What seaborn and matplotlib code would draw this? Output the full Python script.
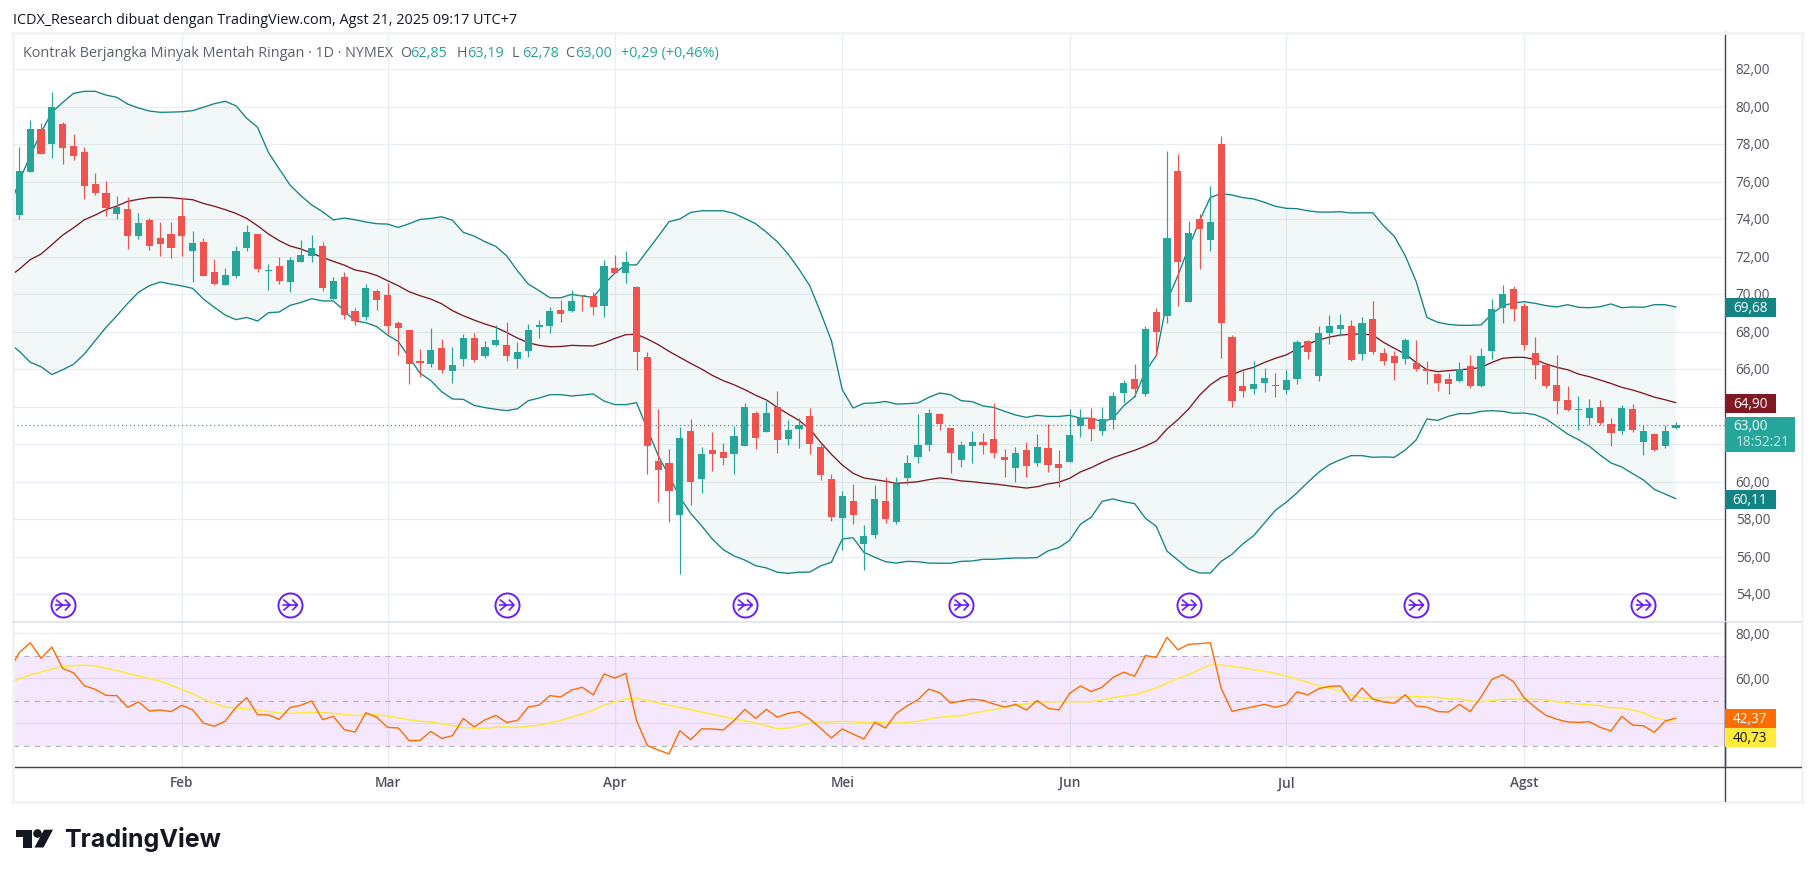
import numpy as np
import pandas as pd
import seaborn as sns
import matplotlib
matplotlib.use("Agg")
import matplotlib.pyplot as plt
from matplotlib.path import Path
from matplotlib.patches import Rectangle, Polygon, Ellipse
from matplotlib.lines import Line2D
from matplotlib.transforms import ScaledTranslation

sns.set_theme(style="white")
plt.rcParams['font.family'] = ['Open Sans', 'DejaVu Sans']

W, H = 1814, 878

opens = [74.21,76.52,78.8,78.0,79.07,77.89,77.57,75.87,75.38,74.27,74.53,73.09,73.95,72.98,73.2,74.16,72.29,72.77,71.17,70.48,
70.96,72.45,73.2,71.22,71.49,70.64,71.71,72.03,72.56,69.73,70.9,69.09,68.77,70.16,69.95,68.45,68.08,66.39,66.27,67.12,
65.89,66.53,67.65,66.69,67.28,67.28,66.53,66.96,68.24,68.29,69.15,69.09,69.95,69.89,69.36,71.38,71.12,70.37,66.64,61.09,
60.99,58.2,62.69,60.13,61.68,61.57,61.47,61.89,63.65,62.64,63.97,62.27,62.8,63.49,61.84,60.13,58.05,58.96,56.67,57.15,
58.96,57.84,60.19,61.31,61.95,63.6,62.85,61.15,61.89,62.11,62.27,61.31,60.72,61.68,60.99,61.79,60.93,61.04,62.96,63.39,
62.69,63.28,64.72,65.47,64.67,69.04,68.83,76.56,69.57,74.0,72.88,78.0,67.7,65.09,64.93,65.25,65.15,64.88,65.47,67.49,
65.63,67.92,68.13,68.29,66.8,68.67,66.85,66.69,66.53,66.32,66.0,65.73,65.47,65.36,66.16,65.09,66.96,69.25,70.27,69.36,
66.85,66.21,65.15,64.35,63.81,63.39,63.97,63.07,62.69,63.87,62.11,62.53,61.89,62.85]
highs = [77.84,79.26,79.12,80.77,79.2,78.53,77.84,76.45,76.03,75.22,75.17,74.32,74.05,73.84,73.84,75.17,73.36,72.98,71.87,71.38,
72.56,73.68,73.2,71.6,72.0,72.0,72.88,73.15,72.77,70.9,71.2,69.25,70.53,70.26,70.6,68.56,68.08,67.07,68.19,67.6,
67.17,67.87,67.92,67.49,68.35,68.5,67.44,68.4,68.61,69.3,69.68,70.21,69.95,70.1,71.8,72.08,72.29,70.42,66.9,63.87,
61.73,62.91,63.33,61.84,62.64,62.05,62.96,64.19,63.76,64.3,64.83,63.28,63.39,63.92,62.05,60.4,59.5,59.87,57.68,59.81,
60.24,60.24,61.41,63.6,63.87,63.65,62.85,62.16,62.69,62.59,64.19,61.73,61.84,62.11,62.53,63.07,61.68,63.87,63.87,63.92,
63.97,64.77,65.41,66.27,68.32,69.25,77.63,77.47,73.89,74.27,75.76,78.43,67.81,65.89,66.43,66.05,65.78,65.95,67.55,67.55,
68.29,68.88,68.93,68.61,68.77,69.62,67.12,66.96,67.65,67.55,66.43,65.78,65.78,66.37,66.75,67.12,69.73,70.48,70.42,69.52,
67.71,66.32,66.75,65.09,64.56,64.4,64.35,63.39,64.08,64.13,63.01,62.59,63.01,63.19]
lows = [74.0,76.5,77.45,77.25,76.93,77.13,75.07,75.28,74.16,74.0,72.4,72.93,72.35,72.03,71.92,72.03,70.64,70.96,70.48,70.48,
70.85,72.29,71.17,70.2,70.53,70.1,71.7,71.7,70.16,69.73,68.67,68.34,68.6,69.15,67.86,66.75,65.2,65.57,66.1,65.78,
65.25,66.16,66.37,66.58,67.23,66.43,66.05,66.64,67.65,67.92,68.5,69.04,69.09,68.88,68.77,71.1,70.58,65.95,60.4,58.91,
57.84,55.07,58.75,59.39,60.56,60.88,60.4,61.89,61.73,62.64,61.52,61.95,61.79,61.47,60.08,57.9,56.35,57.73,55.28,56.99,
57.79,57.73,59.87,60.99,61.63,62.75,60.45,60.77,60.99,61.47,61.25,60.24,59.97,60.24,60.83,60.51,59.71,61.04,62.37,62.16,
62.48,62.8,64.19,64.5,64.56,66.69,68.45,69.36,69.57,71.33,72.29,66.58,63.97,64.5,64.67,64.77,64.5,64.67,65.2,66.53,
65.36,67.33,67.76,66.43,66.48,66.8,66.21,65.41,66.27,65.89,65.2,64.83,64.67,65.31,64.99,65.04,66.53,68.45,68.56,67.01,
65.47,64.99,63.6,63.76,62.75,63.01,63.01,61.89,62.53,62.64,61.41,61.63,61.79,62.78]
closes = [76.56,78.8,77.47,80.0,77.79,77.36,75.76,75.38,74.59,74.64,73.09,73.78,72.56,72.67,72.45,73.09,72.72,70.96,70.53,71.01,
72.29,73.3,71.33,71.25,70.69,71.81,72.08,72.45,70.32,70.69,68.88,68.56,70.32,69.68,68.29,68.19,66.27,66.34,67.01,65.95,
66.21,67.65,66.48,67.17,67.55,66.69,66.9,68.08,68.35,69.09,68.93,69.63,69.89,69.31,71.49,71.12,71.7,66.9,61.89,60.61,
59.49,62.32,59.97,61.47,61.47,61.25,62.43,63.97,62.32,63.65,62.21,62.75,63.0,62.0,60.35,58.11,59.23,58.2,57.09,59.07,
58.0,59.87,60.99,61.95,63.65,63.07,61.52,61.95,62.11,61.95,61.52,61.15,61.52,60.83,61.84,60.88,60.72,62.48,63.39,62.8,
63.33,64.56,65.25,64.93,68.13,67.97,72.99,71.71,73.25,73.47,73.84,68.45,64.29,64.83,65.2,65.52,65.09,65.41,67.44,66.9,
67.92,68.29,68.35,66.48,68.45,66.9,66.43,66.32,67.55,66.0,65.89,65.25,65.2,66.0,65.09,66.69,69.2,70.0,69.2,67.28,
66.21,65.09,64.29,63.81,63.87,63.92,63.12,62.59,63.92,62.75,62.69,61.68,62.69,63.0]

upper = [74.5,76.04,77.37,78.62,79.69,80.22,80.7,80.81,80.81,80.61,80.49,80.13,79.92,79.76,79.69,79.7,79.72,79.78,79.96,80.15,
80.28,80.04,79.37,78.89,77.55,76.67,75.81,75.24,74.75,74.39,73.95,74.05,73.96,73.84,73.75,73.73,73.55,73.75,73.98,74.03,
74.12,73.93,73.29,73.09,72.79,72.54,72.04,71.24,70.53,70.18,69.8,69.8,69.98,69.89,69.82,70.53,71.12,71.55,71.55,72.31,
73.07,73.86,74.0,74.35,74.44,74.44,74.44,74.3,74.03,73.75,73.29,72.79,72.13,71.33,70.44,69.02,67.51,64.9,63.92,64.17,
64.19,64.27,64.13,64.15,64.19,64.49,64.72,64.63,64.31,64.26,64.03,63.95,63.74,63.55,63.42,63.53,63.47,63.47,63.53,63.38,
63.37,63.19,63.37,64.04,64.52,65.87,66.71,69.64,70.98,72.49,73.91,75.15,75.35,75.28,75.14,75.07,74.89,74.68,74.57,74.55,
74.44,74.37,74.37,74.39,74.32,74.33,74.33,73.64,73.07,72.04,70.68,68.75,68.49,68.38,68.33,68.33,68.35,68.93,69.38,69.52,
69.59,69.5,69.38,69.31,69.43,69.29,69.27,69.32,69.47,69.27,69.31,69.29,69.43,69.43,69.31]
basis = [70.9,71.33,71.83,72.13,72.63,73.14,73.53,73.96,74.21,74.5,74.69,74.94,75.05,75.14,75.15,75.14,75.08,75.03,74.83,74.68,
74.5,74.3,74.03,73.64,73.2,72.84,72.56,72.4,72.18,71.95,71.74,71.54,71.28,71.17,70.99,70.71,70.44,70.12,69.91,69.73,
69.48,69.11,68.84,68.61,68.4,68.22,67.95,67.65,67.4,67.26,67.19,67.2,67.26,67.24,67.23,67.4,67.63,67.83,67.85,67.6,
67.3,66.94,66.62,66.3,66.0,65.66,65.38,65.16,64.9,64.6,64.35,63.95,63.6,63.26,62.8,62.09,61.45,60.88,60.44,60.19,
60.1,60.01,59.9,59.94,59.99,60.1,60.19,60.13,60.03,59.99,59.92,59.87,59.8,59.72,59.65,59.72,59.87,59.96,60.17,60.51,
60.74,61.02,61.27,61.47,61.66,61.89,62.16,62.8,63.3,63.87,64.6,65.16,65.55,65.7,65.93,66.09,66.35,66.57,66.75,67.06,
67.33,67.55,67.7,67.81,67.85,67.87,67.81,67.42,67.1,66.8,66.35,65.96,65.86,65.91,65.96,66.0,66.09,66.35,66.57,66.62,
66.62,66.5,66.27,66.09,65.96,65.73,65.59,65.41,65.23,65.02,64.88,64.7,64.5,64.36,64.2]
lower = [67.4,66.94,66.36,66.12,65.7,65.96,66.25,66.8,67.51,68.22,68.84,69.5,70.09,70.44,70.64,70.53,70.43,70.3,69.73,69.29,
68.88,68.63,68.75,68.56,69.0,69.04,69.39,69.55,69.75,69.63,69.63,69.11,68.56,68.47,68.26,67.81,67.46,66.62,65.78,65.38,
64.79,64.4,64.38,64.06,63.94,63.85,63.78,63.88,64.31,64.45,64.63,64.63,64.56,64.61,64.67,64.29,64.1,64.1,64.2,62.8,
61.38,60.31,59.16,58.3,57.64,56.93,56.37,56.03,55.81,55.51,55.39,55.16,55.1,55.16,55.17,55.5,55.69,56.93,57.0,56.22,
55.96,55.72,55.65,55.74,55.72,55.65,55.64,55.64,55.74,55.76,55.85,55.85,55.89,55.92,55.92,55.94,56.3,56.47,56.86,57.72,
58.1,58.94,59.07,58.92,58.82,58.04,57.61,56.28,55.81,55.33,55.12,55.12,55.74,56.12,56.67,57.11,57.79,58.46,58.89,59.39,
59.96,60.49,60.9,61.16,61.38,61.38,61.29,61.31,61.29,61.68,62.21,63.33,63.26,63.48,63.62,63.62,63.74,63.78,63.74,63.64,
63.65,63.56,63.33,62.94,62.53,62.23,61.88,61.41,60.99,60.77,60.42,60.08,59.58,59.33,59.08]
rsi = [63.0,71.5,75.8,68.9,73.9,64.4,62.4,56.7,55.1,52.4,52.3,47.1,49.5,45.5,45.9,45.2,48.0,46.0,40.1,38.7,
40.9,47.1,51.4,43.8,43.7,41.8,47.0,48.0,49.9,41.6,43.1,37.2,36.1,44.7,42.7,38.2,37.9,32.3,32.4,36.4,
33.3,34.5,42.2,38.4,41.5,43.5,40.4,41.3,47.2,48.1,52.3,51.7,54.8,56.0,52.6,61.9,60.1,62.2,41.2,30.1,
28.1,26.4,36.7,32.7,37.5,37.5,37.0,41.2,46.2,42.2,46.2,42.7,44.4,45.2,41.9,37.8,33.5,37.5,35.2,33.0,
40.4,37.9,44.4,47.8,50.5,55.2,53.6,49.0,49.9,50.7,50.2,48.6,47.2,48.4,45.9,50.1,46.7,45.9,53.3,56.6,
54.1,56.0,60.4,62.7,60.9,70.1,69.3,78.2,72.7,75.1,75.4,75.8,55.5,45.3,46.4,47.4,48.4,47.1,48.3,54.0,
52.6,55.4,56.4,56.6,49.9,55.7,50.8,49.5,48.9,52.7,47.7,47.2,45.2,45.0,48.4,45.2,51.7,59.5,61.6,58.5,
51.2,47.1,43.5,41.8,40.6,40.4,40.7,38.2,36.6,43.1,39.2,38.9,36.0,41.0,42.3]
rsi_ma = [57.9,59.7,61.5,62.8,64.1,65.2,65.6,65.8,65.5,64.4,63.4,62.2,61.0,60.0,58.7,56.9,55.0,53.2,50.7,48.9,
47.2,46.8,46.4,45.9,45.2,44.6,44.4,44.7,44.9,44.7,44.4,43.8,43.5,43.7,43.8,43.2,42.4,41.6,40.9,40.6,
39.8,38.9,38.1,37.9,37.8,38.2,38.4,38.2,38.7,39.1,40.1,41.3,42.7,44.1,45.9,48.1,49.5,50.8,51.1,50.2,
49.0,48.0,47.1,46.1,45.0,44.0,43.0,41.9,41.2,40.1,38.9,37.6,37.9,38.9,40.0,40.7,40.6,40.9,40.6,40.3,
40.6,40.1,40.1,40.4,40.9,41.9,42.7,43.0,43.4,44.3,45.3,46.1,47.2,48.1,48.6,49.5,49.5,49.6,49.6,49.6,
49.6,50.4,51.4,52.1,52.7,54.2,55.7,57.9,60.0,61.6,63.8,65.9,65.9,65.2,64.6,63.8,63.1,62.1,61.0,59.7,
58.2,56.7,55.5,54.3,52.6,51.2,51.2,51.4,51.5,51.8,51.8,51.8,51.5,50.9,50.8,49.9,49.6,50.1,50.6,50.8,
50.8,50.6,50.4,49.6,49.0,48.6,48.3,47.8,46.9,46.8,45.9,44.6,42.5,41.5,40.7]

month_idx = [15, 34, 55, 76, 97, 117, 139]
month_labels = ['Feb', 'Mar', 'Apr', 'Mei', 'Jun', 'Jul', 'Agst']
roll_idx = [4, 25, 45, 67, 87, 108, 129, 150]
price_ticks = [54, 56, 58, 60, 62, 64, 66, 68, 70, 72, 74, 76, 78, 80, 82]
price_hidden = [62, 64]   # covered by the value tags in the original
rsi_ticks = [80, 60, 40]
rsi_tick_labels = ['80,00', '60,00', '']
last_price = 63.0

UP, DOWN = '#26a69a', '#ef5350'
BAND, BASIS = '#138484', '#801922'
GRID = '#e8eef3'
AX = '#434651'
TXT = '#50535e'

x0, x1 = 13.0, 1724.6
xlim = ((x0 - 19.4) / 10.827, (x1 - 19.4) / 10.827)
fig = plt.figure(figsize=(W / 100, H / 100), dpi=100, facecolor='white')
ax = fig.add_axes([x0 / W, 1 - 623 / H, (x1 - x0) / W, 590 / H])
ax2 = fig.add_axes([x0 / W, 1 - 768 / H, (x1 - x0) / W, 145 / H], sharex=ax)

idx = np.arange(len(closes))
bidx = np.arange(-1, len(closes))

# ---------- price pane ----------
ax.set_axisbelow(True)
for a in (ax, ax2):
    a.set_facecolor('white')
    a.grid(True, color=GRID, lw=0.9)
    for s in a.spines.values():
        s.set_visible(False)
    a.spines['right'].set_visible(True)
    a.spines['right'].set_color(AX)
    a.spines['right'].set_linewidth(1.0)

ax.fill(np.r_[bidx, bidx[::-1]], np.r_[upper, lower[::-1]], color='#138484', alpha=0.05, lw=0, zorder=1)

df = pd.DataFrame({'i': bidx, 'upper': upper, 'basis': basis, 'lower': lower, 'rsi': rsi, 'ma': rsi_ma})
sns.lineplot(data=df, x='i', y='upper', ax=ax, color=BAND, lw=0.95, errorbar=None, zorder=2)
sns.lineplot(data=df, x='i', y='lower', ax=ax, color=BAND, lw=0.95, errorbar=None, zorder=2)
sns.lineplot(data=df, x='i', y='basis', ax=ax, color=BASIS, lw=0.95, errorbar=None, zorder=2)

colors = [UP if c >= o else DOWN for o, c in zip(opens, closes)]
ax.vlines(idx, lows, highs, colors=colors, lw=0.85, zorder=3)
bottoms = np.minimum(opens, closes)
heights = np.maximum(np.abs(np.array(closes) - np.array(opens)), 0.06)
ax.bar(idx, heights, bottom=bottoms, width=0.66, color=colors, lw=0, zorder=4)

ax.axhline(last_price, color='#1d9a8e', lw=0.85, ls=(0, (1, 2.4)), zorder=5)

# contract-roll markers
arrow = Path([(-0.62, 0.50), (-0.02, 0.0), (-0.62, -0.50), (-0.70, 0.0), (0.68, 0.0),
              (0.20, 0.50), (0.68, 0.0), (0.20, -0.50)],
             [Path.MOVETO, Path.LINETO, Path.LINETO, Path.MOVETO, Path.LINETO,
              Path.MOVETO, Path.LINETO, Path.LINETO])
roll_y = 78 - (606 - 145) / 18.75
ax.scatter(roll_idx, [roll_y] * len(roll_idx), s=300, marker='o', facecolors='white',
           edgecolors='#6a1bff', linewidths=1.4, zorder=6)
ax.scatter(roll_idx, [roll_y] * len(roll_idx), s=120, marker=arrow, facecolors='none',
           edgecolors='#6a1bff', linewidths=1.2, zorder=7)

ax.set_xlim(*xlim)
ax.set_ylim(78 - (623 - 145) / 18.75, 78 + (145 - 33) / 18.75)
ax.set_xticks(month_idx)
ax.yaxis.tick_right()
ax.set_yticks(price_ticks)
ax.set_yticklabels(['' if t in price_hidden else f'{t},00' for t in price_ticks])
ax.tick_params(axis='y', length=0, pad=8, labelsize=9.8, labelcolor=TXT)
ax.tick_params(axis='x', length=0, labelbottom=False)
ax.set_xlabel(''); ax.set_ylabel('')

# ---------- RSI pane ----------
ax2.set_axisbelow(True)
ax2.axhspan(30, 70, color='#b23cf0', alpha=0.12, lw=0, zorder=1)
for lvl in (70, 50, 30):
    ax2.axhline(lvl, color='#b2b5be', lw=0.85, ls=(0, (4.5, 4.5)), zorder=2)
sns.lineplot(data=df, x='i', y='ma', ax=ax2, color='#ffeb3b', lw=1.1, errorbar=None, zorder=3)
sns.lineplot(data=df, x='i', y='rsi', ax=ax2, color='#ff6d00', lw=1.0, errorbar=None, zorder=4)
ax2.set_ylim(80 - (768 - 634.3) / 2.25, 80 + (634.3 - 623) / 2.25)
ax2.set_xlim(*xlim)
ax2.yaxis.tick_right()
ax2.set_yticks(rsi_ticks)
ax2.set_yticklabels(rsi_tick_labels)
ax2.set_xticks(month_idx)
ax2.set_xticklabels(month_labels, fontweight='semibold')
ax2.tick_params(axis='y', length=0, pad=8, labelsize=9.8, labelcolor=TXT)
ax2.tick_params(axis='x', length=0, pad=6, labelsize=9.8, labelcolor=TXT)
ax2.spines['bottom'].set_visible(True)
ax2.spines['bottom'].set_color(AX)
ax2.spines['bottom'].set_linewidth(1.0)
ax2.set_xlabel(''); ax2.set_ylabel('')

nudge = ScaledTranslation(0, 1.2 / 100, fig.dpi_scale_trans)
for a in (ax, ax2):
    for lab in a.get_yticklabels():
        lab.set_transform(lab.get_transform() + nudge)


# ---------- furniture in pixel coordinates ----------
def T(x, y, s, color=TXT, size=10.2, ha='left', va='center', **kw):
    return fig.text(x / W, 1 - y / H, s, color=color, fontsize=size, ha=ha, va=va, **kw)


def box(x, y, w, h, color):
    fig.add_artist(Rectangle((x / W, 1 - (y + h) / H), w / W, h / H, transform=fig.transFigure,
                             facecolor=color, edgecolor='none', zorder=20))


def hline(x_a, x_b, y, color, lw=1.0):
    fig.add_artist(Line2D([x_a / W, x_b / W], [1 - y / H, 1 - y / H], color=color, lw=lw, zorder=15))


def vline(x, y_a, y_b, color, lw=1.0):
    fig.add_artist(Line2D([x / W, x / W], [1 - y_a / H, 1 - y_b / H], color=color, lw=lw, zorder=15))


FRAME = '#f1f3f6'
hline(12, 1803, 33.5, FRAME, 2)
hline(12, 1803, 803, FRAME, 2)
vline(13, 33, 804, FRAME, 2)
vline(1802, 33, 804, FRAME, 2)
hline(13, x1, 623, '#e0e3eb', 1.2)
hline(x1, 1801, 623, '#e0e3eb', 1.2)
hline(x1, 1801, 768, AX, 1.0)
vline(x1, 623, 802, AX, 1.0)

T(13, 20, 'ICDX_Research dibuat dengan TradingView.com, Agst 21, 2025 09:17 UTC+7', color='#131722', size=10.4)
T(23, 53.5, 'Kontrak Berjangka Minyak Mentah Ringan · 1D · NYMEX', color='#5d606b', size=10.4)
for xp, lab, val in [(400, 'O', '62,85'), (457, 'H', '63,19'), (512, 'L', '62,78'), (565, 'C', '63,00')]:
    T(xp, 53.5, lab, color='#5d606b', size=10.4)
    T(xp + 10.5, 53.5, val, color=UP, size=10.4)
T(621, 53.5, '+0,29 (+0,46%)', color=UP, size=10.4)

box(x1, 299, 51.4, 19, '#138484')
T(1750, 308.5, '69,68', color='white', size=9.8, ha='center', zorder=21)
box(x1, 395, 51.4, 19, '#801922')
T(1750, 404.5, '64,90', color='white', size=9.8, ha='center', zorder=21)
box(x1, 418, 70.4, 35, UP)
T(1750, 426, '63,00', color='white', size=9.8, ha='center', zorder=21)
T(1736, 442, '18:52:21', color='#c6e8e4', size=9.8, zorder=21)
box(x1, 491, 51.4, 19, '#138484')
T(1750, 500.5, '60,11', color='white', size=9.8, ha='center', zorder=21)
box(x1, 710, 51.4, 19, '#ff6d00')
T(1750, 719.5, '42,37', color='white', size=9.8, ha='center', zorder=21)
box(x1, 729, 51.4, 19, '#ffeb3b')
T(1750, 738.5, '40,73', color='#131722', size=9.8, ha='center', zorder=21)


# TradingView logo
def poly(points, color='#131722'):
    pts = [(x / W, 1 - y / H) for x, y in points]
    fig.add_artist(Polygon(pts, closed=True, transform=fig.transFigure, facecolor=color, edgecolor='none'))


poly([(16, 830.7), (32, 830.7), (32, 848.5), (23, 848.5), (23, 837.5), (16, 837.5)])
fig.add_artist(Ellipse((37.5 / W, 1 - 834.5 / H), 8.6 / W, 8.6 / H, transform=fig.transFigure,
                       facecolor='#131722', edgecolor='none'))
poly([(44, 830.7), (53, 830.7), (43.5, 848.5), (34.5, 848.5)])
T(64, 839.5, 'TradingView', color='#131722', size=18, fontweight='bold', family=['Inter', 'DejaVu Sans'])

fig.savefig('out.png', dpi=100, facecolor='white')
